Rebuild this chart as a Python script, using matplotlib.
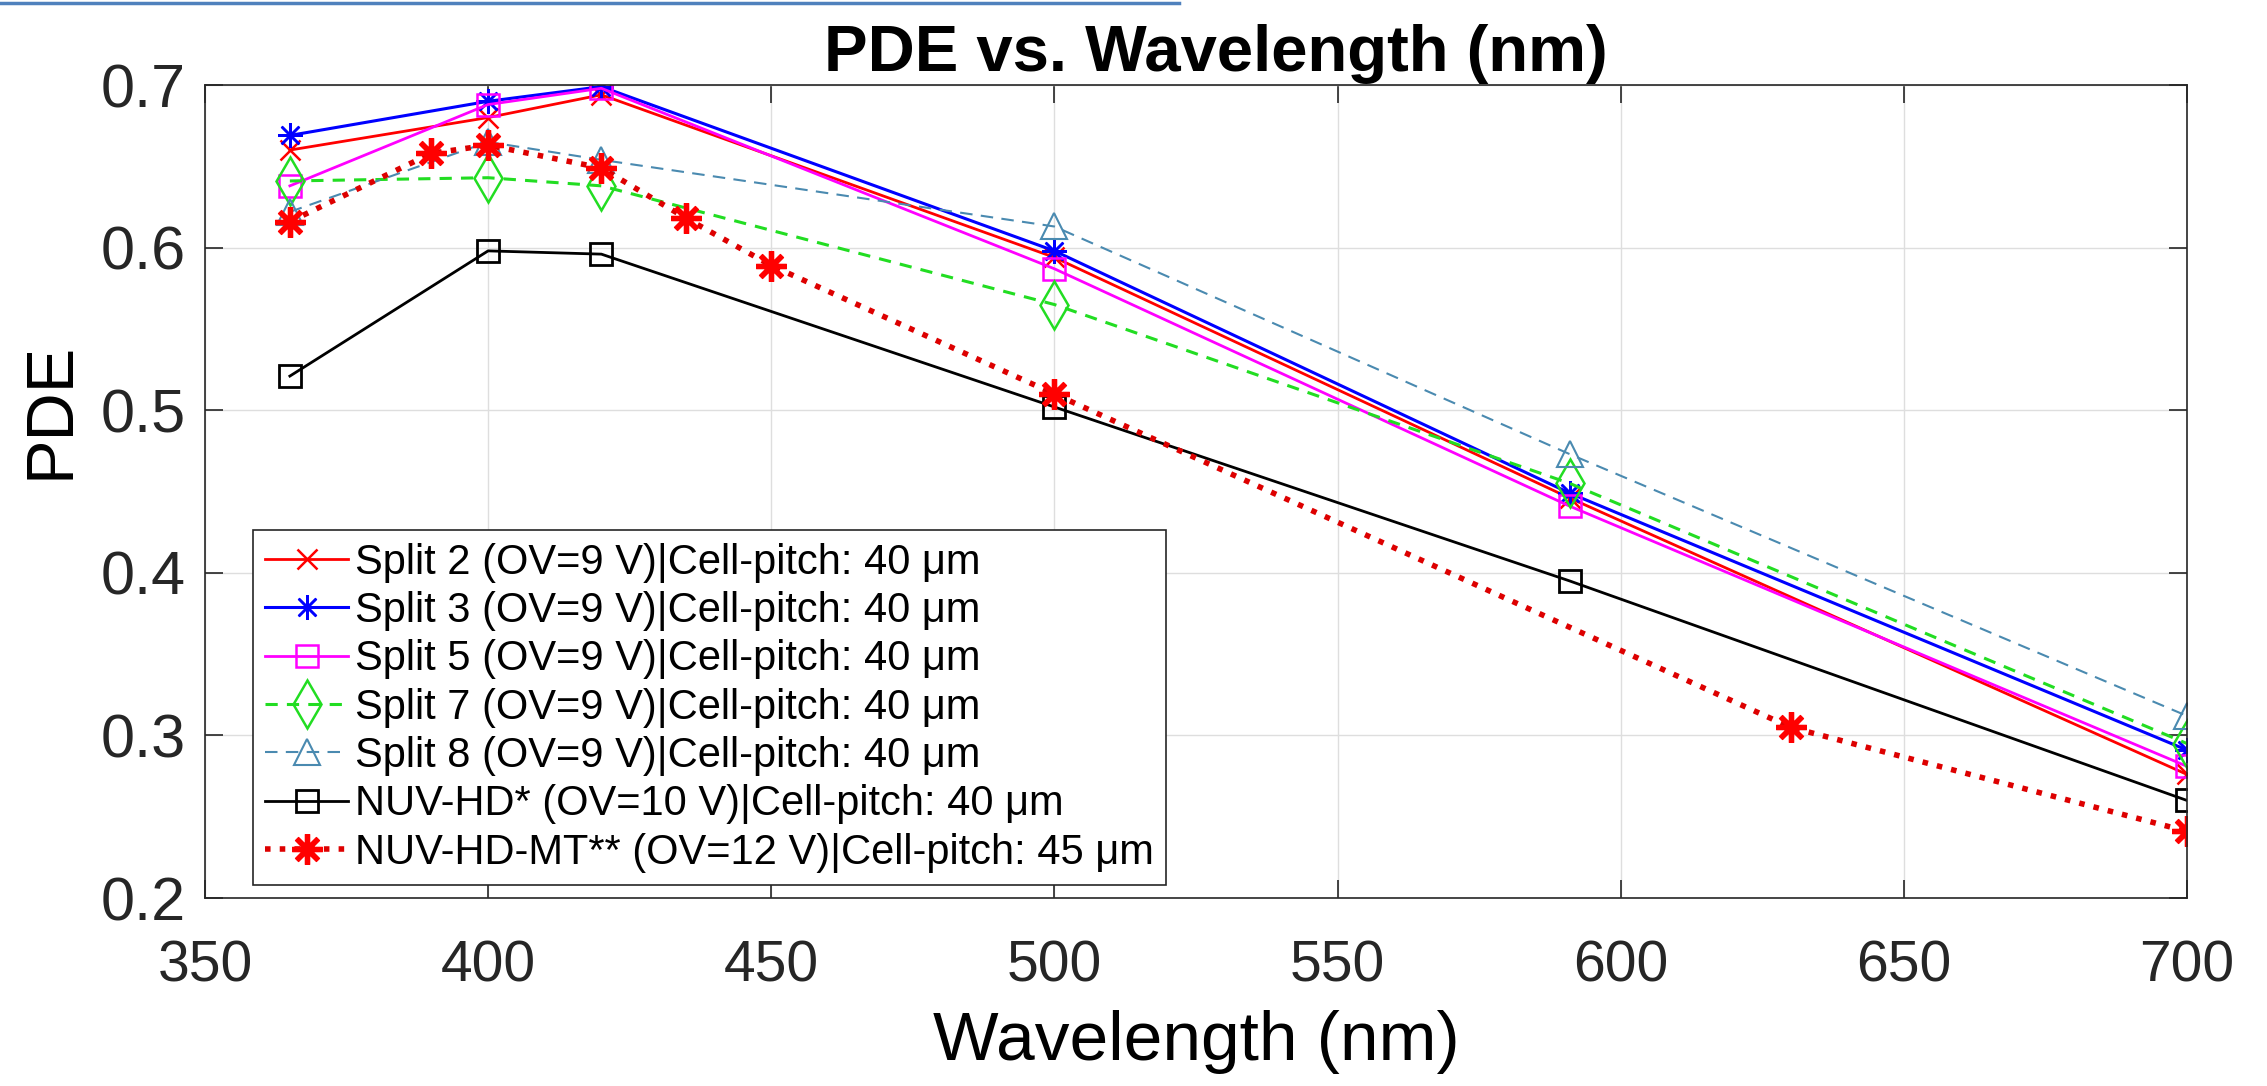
import matplotlib
matplotlib.use("Agg")
import matplotlib.pyplot as plt
from matplotlib.lines import Line2D

plt.rcParams['font.family'] = ['Liberation Sans', 'DejaVu Sans']

# wavelengths (nm)
wl_split = [365, 400, 420, 500, 591, 700]
wl_mt = [365, 390, 400, 420, 435, 450, 500, 630, 700]

# PDE values
split2 = [0.660, 0.680, 0.694, 0.594, 0.446, 0.276]
split3 = [0.669, 0.690, 0.699, 0.598, 0.449, 0.291]
split5 = [0.638, 0.688, 0.698, 0.587, 0.441, 0.281]
split7 = [0.641, 0.643, 0.638, 0.565, 0.455, 0.295]
split8 = [0.622, 0.665, 0.654, 0.613, 0.473, 0.312]
nuv_hd = [0.521, 0.598, 0.596, 0.502, 0.395, 0.260]
nuv_hd_mt = [0.616, 0.658, 0.663, 0.649, 0.618, 0.589, 0.510, 0.305, 0.241]

labels = ["Split 2 (OV=9 V)|Cell-pitch: 40 μm",
          "Split 3 (OV=9 V)|Cell-pitch: 40 μm",
          "Split 5 (OV=9 V)|Cell-pitch: 40 μm",
          "Split 7 (OV=9 V)|Cell-pitch: 40 μm",
          "Split 8 (OV=9 V)|Cell-pitch: 40 μm",
          "NUV-HD* (OV=10 V)|Cell-pitch: 40 μm",
          "NUV-HD-MT** (OV=12 V)|Cell-pitch: 45 μm"]

fig = plt.figure(figsize=(22.67, 10.86), dpi=100)
ax = fig.add_axes([0.0904, 0.1731, 0.8743, 0.7486])

ax.plot(wl_split, split2, '-', color='#ff0000', lw=2.0, marker='x', ms=14, mew=1.8, label=labels[0])
ax.plot(wl_split, split3, '-', color='#0000ff', lw=2.2, marker=(8, 2, 0), ms=18, mew=1.8, label=labels[1])
ax.plot(wl_split, split5, '-', color='#ff00ff', lw=2.0, marker='s', ms=16, mew=1.8, mfc='none', label=labels[2])
ax.plot(wl_split, split7, '--', color='#22dd22', lw=2.2, marker='d', ms=24, mew=1.8, mfc='none',
        dashes=(4, 3), label=labels[3])
ax.plot(wl_split, split8, '--', color='#4a8ab0', lw=1.5, marker='^', ms=19, mew=1.5, mfc='none',
        dashes=(6, 4), label=labels[4])
ax.plot(wl_split, nuv_hd, '-', color='black', lw=2.0, marker='s', ms=16, mew=2.0, mfc='none', label=labels[5])
ax.plot(wl_mt, nuv_hd_mt, ':', color='#dd0000', lw=4.0, marker=(8, 2, 0), ms=22, mew=3.8,
        mec='#ff0000', label=labels[6])

ax.set_xlim(350, 700)
ax.set_ylim(0.2, 0.7)
ax.set_xticks([350, 400, 450, 500, 550, 600, 650, 700])
ax.set_yticks([0.2, 0.3, 0.4, 0.5, 0.6, 0.7])
ax.grid(True, color='#dedede', lw=1.0)
ax.tick_params(direction='in', length=13, width=1.2, top=True, right=True, colors='#262626')
ax.tick_params(axis='x', labelsize=41, pad=30)
ax.tick_params(axis='y', labelsize=44, pad=14)
for s in ax.spines.values():
    s.set_color('#262626')
    s.set_linewidth(1.2)

ax.set_xlabel("Wavelength (nm)", fontsize=50, labelpad=12)
ax.set_ylabel("PDE", fontsize=48)
ax.yaxis.set_label_coords(-0.062, 0.60)
ax.set_title("PDE vs. Wavelength (nm)", fontsize=47, fontweight='bold', pad=10, x=0.51)

leg = ax.legend(loc='lower left', bbox_to_anchor=(0.024, 0.016), fontsize=30,
                handlelength=2.0, handletextpad=0.15, labelspacing=0.2,
                borderpad=0.3, borderaxespad=0, fancybox=False, framealpha=1,
                edgecolor='#262626')
leg.get_frame().set_linewidth(1.2)

# blue rule at the top of the slide
fig.add_artist(Line2D([0, 0.52], [0.997, 0.997], color='#4f81bd', lw=2.5))

fig.savefig("out.png", dpi=100)
